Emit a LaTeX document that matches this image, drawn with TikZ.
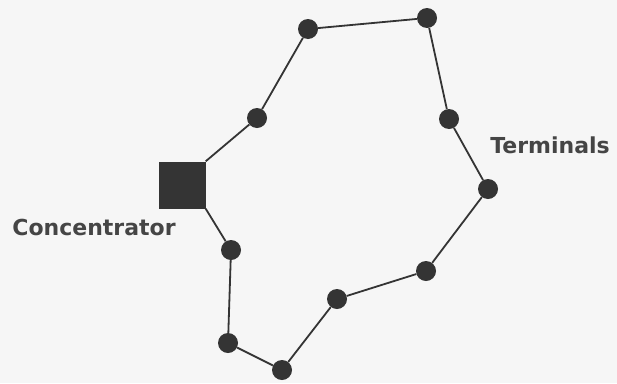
\documentclass[tikz,border=0pt]{standalone}
\usepackage{fontspec}
\setsansfont{DejaVu Sans}
\usetikzlibrary{calc}
\definecolor{inkgray}{HTML}{343434}
\definecolor{paper}{HTML}{F6F6F6}
\definecolor{labelgray}{HTML}{454545}

\begin{document}
\begin{tikzpicture}[x=1pt,y=-1pt,
  term/.style={circle,fill=inkgray,minimum size=20pt,inner sep=0pt},
  conc/.style={fill=inkgray,minimum size=47pt,inner sep=0pt},
  link/.style={inkgray,line width=1.8pt},
  tag/.style={font=\sffamily\bfseries\fontsize{22}{26}\selectfont,text=labelgray,inner sep=0pt}]
\fill[paper] (0,0) rectangle (617,383);
\useasboundingbox (0,0) rectangle (617,383);
% concentrator and terminals on the ring
\node[conc] (conc) at (182,185) {};
\foreach \n/\x/\y in {t1/257/118,t2/308/29,t3/427/18,t4/449/119,t5/488/189,t6/426/271,t7/337/299,t8/282/370,t9/228/343,t10/231/250}{\node[term] (\n) at (\x,\y) {};}
\draw[link] (conc.north east) -- (t1) -- (t2) -- (t3) -- (t4) -- (t5) -- (t6) -- (t7) -- (t8) -- (t9) -- (t10) -- (conc.south east);
\node[tag] (lbterm) at (550,145) {Terminals};
\node[tag] (lbconc) at (94,227) {Concentrator};
\end{tikzpicture}
\end{document}
